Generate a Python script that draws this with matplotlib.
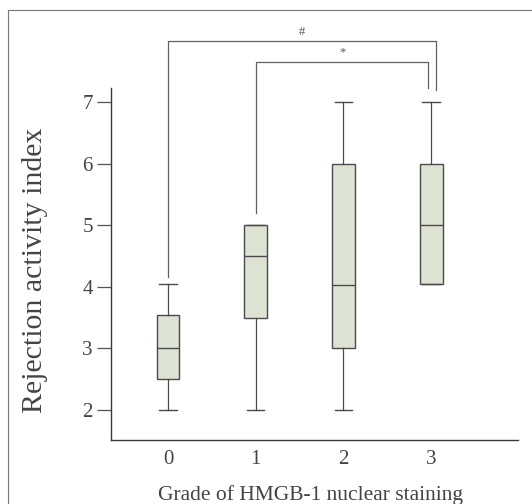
import numpy as np
import matplotlib.pyplot as plt
from matplotlib.lines import Line2D

plt.rcParams["font.family"] = ["Liberation Serif", "DejaVu Serif"]

# box statistics per staining grade
grades = [0, 1, 2, 3]
whislo = [2.0, 2.0, 2.0, 4.05]
q1 = [2.5, 3.5, 3.0, 4.05]
med = [3.0, 4.5, 4.03, 5.0]
q3 = [3.55, 5.0, 6.0, 6.0]
whishi = [4.05, 5.0, 7.0, 7.0]

# significance brackets: (left, right, height, left foot, right foot, mark)
brk_left = [0, 1]
brk_right = [3.05, 2.97]
brk_top = [7.99, 7.66]
brk_lfoot = [4.16, 5.2]
brk_rfoot = [7.2, 7.23]
brk_mark = ["#", "*"]

fig = plt.figure(figsize=(5.32, 5.04), dpi=100)
ax = fig.add_axes([0.2086, 0.127, 0.765, 0.8286])

stats = []
for i in range(len(grades)):
    stats.append(dict(whislo=whislo[i], q1=q1[i], med=med[i], q3=q3[i], whishi=whishi[i]))

line_col = "#4a4a4a"
ax.bxp(stats, positions=grades, widths=0.26, showfliers=False, patch_artist=True,
       boxprops=dict(facecolor="#dde3d3", edgecolor=line_col, linewidth=1.0),
       medianprops=dict(color=line_col, linewidth=1.0),
       whiskerprops=dict(color=line_col, linewidth=0.9),
       capprops=dict(color=line_col, linewidth=1.0), capwidths=0.2)

for l, r, t, lf, rf, m in zip(brk_left, brk_right, brk_top, brk_lfoot, brk_rfoot, brk_mark):
    ax.plot([l, l, r, r], [lf, t, t, rf], color="#606060", lw=0.9, clip_on=False)
    ax.text((l + r) / 2, t + 0.05, m, ha="center", va="bottom", fontsize=9, color="#555555")

ax.set_xlim(-0.65, 3.99)
ax.set_ylim(1.51, 8.3)
ax.spines[["right", "top"]].set_visible(False)
ax.spines["left"].set_bounds(1.51, 7.23)
for s in ["left", "bottom"]:
    ax.spines[s].set_color("#3a3a3a")
    ax.spines[s].set_linewidth(1.0)

ax.set_yticks([2, 3, 4, 5, 6, 7])
ax.set_xticks(grades)
ax.tick_params(axis="y", direction="out", length=10, width=0.9, colors="#555555",
               labelsize=15, labelcolor="#444444", pad=3)
ax.tick_params(axis="x", length=0, labelsize=15, labelcolor="#444444", pad=7)

fig.text(35 / 532, 1 - 270 / 504, "Rejection activity index", rotation=90,
         ha="center", va="center", fontsize=21.5, color="#444444")
fig.text(310 / 532, 4 / 504, "Grade of HMGB-1 nuclear staining", ha="center", va="baseline",
         fontsize=15.5, color="#444444")

# page frame around the figure
fig.add_artist(Line2D([8 / 532, 8 / 532], [0, 1 - 10 / 504], transform=fig.transFigure,
                      color="#777777", lw=0.8))
fig.add_artist(Line2D([8 / 532, 1], [1 - 10 / 504, 1 - 10 / 504], transform=fig.transFigure,
                      color="#777777", lw=0.8))

fig.savefig("out.png", dpi=100)
